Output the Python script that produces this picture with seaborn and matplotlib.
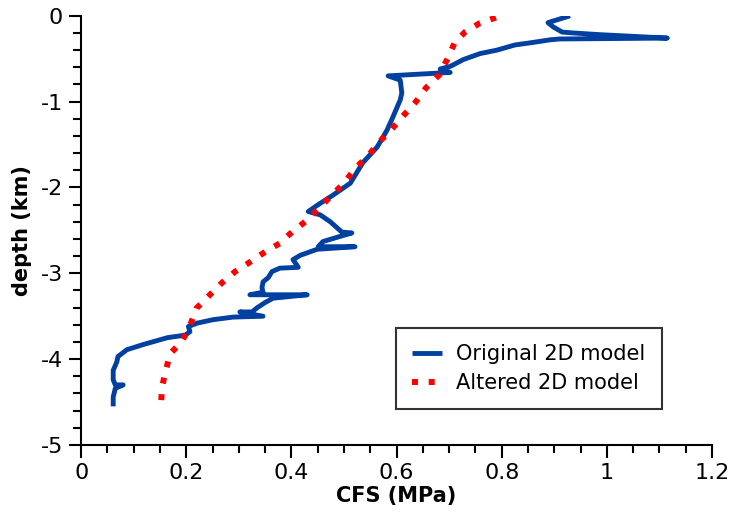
import numpy as np
import pandas as pd
import matplotlib
matplotlib.use("Agg")
import matplotlib.pyplot as plt
import seaborn as sns
from matplotlib.ticker import MultipleLocator

# Coulomb failure stress (MPa) versus depth (km), original model profile
orig_cfs = [0.930, 0.888, 0.898, 0.915, 0.936, 0.987, 1.115, 0.911, 0.892, 0.860,
            0.825, 0.791, 0.759, 0.727, 0.702, 0.683, 0.702, 0.584, 0.607, 0.610,
            0.607, 0.593, 0.582, 0.563, 0.536, 0.512, 0.479, 0.451, 0.432, 0.455,
            0.474, 0.496, 0.515, 0.487, 0.460, 0.451, 0.521, 0.449, 0.417, 0.403,
            0.413, 0.378, 0.363, 0.356, 0.346, 0.344, 0.346, 0.321, 0.430, 0.365,
            0.350, 0.335, 0.325, 0.302, 0.346, 0.289, 0.251, 0.221, 0.204, 0.207,
            0.198, 0.164, 0.118, 0.087, 0.070, 0.068, 0.061, 0.061, 0.065, 0.080,
            0.065, 0.061, 0.061]
orig_depth = [0.00, -0.08, -0.13, -0.19, -0.20, -0.22, -0.26, -0.27, -0.28, -0.31,
              -0.34, -0.40, -0.44, -0.51, -0.59, -0.62, -0.66, -0.70, -0.75, -0.90,
              -0.98, -1.18, -1.33, -1.53, -1.71, -1.95, -2.09, -2.20, -2.28, -2.32,
              -2.40, -2.52, -2.53, -2.58, -2.63, -2.69, -2.69, -2.72, -2.79, -2.84,
              -2.93, -2.94, -2.98, -3.05, -3.10, -3.17, -3.22, -3.25, -3.25, -3.29,
              -3.34, -3.40, -3.45, -3.45, -3.50, -3.51, -3.54, -3.58, -3.62, -3.68,
              -3.72, -3.75, -3.83, -3.89, -3.97, -4.03, -4.13, -4.24, -4.30, -4.30,
              -4.34, -4.44, -4.55]

# Altered model profile
alt_cfs = [0.789, 0.757, 0.730, 0.710, 0.697, 0.681, 0.656, 0.637, 0.612, 0.591,
           0.567, 0.546, 0.521, 0.500, 0.475, 0.453, 0.428, 0.401, 0.378, 0.350,
           0.321, 0.293, 0.268, 0.245, 0.219, 0.207, 0.192, 0.169, 0.162, 0.154,
           0.152]
alt_depth = [-0.02, -0.09, -0.19, -0.32, -0.50, -0.69, -0.84, -1.00, -1.17, -1.32,
             -1.47, -1.63, -1.78, -1.95, -2.10, -2.24, -2.39, -2.52, -2.65, -2.75,
             -2.87, -2.98, -3.11, -3.25, -3.41, -3.61, -3.79, -3.94, -4.11, -4.32,
             -4.52]

orig = pd.DataFrame({"cfs": orig_cfs, "depth": orig_depth})
alt = pd.DataFrame({"cfs": alt_cfs, "depth": alt_depth})

sns.set_style("ticks")
plt.rcParams["font.family"] = ["DejaVu Sans"]
plt.rcParams["text.color"] = "black"
plt.rcParams["axes.labelcolor"] = "black"

fig = plt.figure(figsize=(7.31, 5.26), dpi=100)
ax = fig.add_axes([0.111, 0.154, 0.863, 0.816])

sns.lineplot(data=orig, x="cfs", y="depth", sort=False, estimator=None,
             color="#0040a0", linewidth=3.5, label="Original 2D model", ax=ax)
sns.lineplot(data=alt, x="cfs", y="depth", sort=False, estimator=None,
             color="#ff0000", linewidth=4.3, label="Altered 2D model", ax=ax)
red_line = ax.lines[-1]
red_line.set_linestyle((0, (1, 1.8)))
red_line.set_dash_capstyle("butt")
ax.lines[0].set_solid_capstyle("butt")

ax.set_xlim(0, 1.2)
ax.set_ylim(-5, 0)
ax.xaxis.set_major_locator(MultipleLocator(0.2))
ax.xaxis.set_minor_locator(MultipleLocator(0.05))
ax.yaxis.set_major_locator(MultipleLocator(1))
ax.yaxis.set_minor_locator(MultipleLocator(0.2))
ax.set_xticks([0, 0.2, 0.4, 0.6, 0.8, 1.0, 1.2])
ax.set_xticklabels(["0", "0.2", "0.4", "0.6", "0.8", "1", "1.2"])
ax.set_yticks([0, -1, -2, -3, -4, -5])
ax.set_yticklabels(["0", "-1", "-2", "-3", "-4", "-5"])

sns.despine(ax=ax)
for side in ("left", "bottom"):
    ax.spines[side].set_linewidth(1.5)
    ax.spines[side].set_color("black")
ax.tick_params(which="major", direction="out", length=9, width=1.5,
               labelsize=16, colors="black", labelcolor="black", pad=4)
ax.tick_params(which="minor", direction="out", length=5.5, width=1.5,
               colors="black")

ax.set_xlabel("CFS (MPa)", fontsize=15, fontweight="bold", labelpad=2,
              color="black")
ax.set_ylabel("depth (km)", fontsize=15, fontweight="bold", labelpad=6,
              color="black")

leg = ax.legend(loc="upper right", bbox_to_anchor=(0.921, 0.273),
                fontsize=15, frameon=True, fancybox=False, handlelength=1.4,
                handletextpad=0.7, borderpad=0.8, labelspacing=0.4,
                borderaxespad=0)
leg.get_frame().set_edgecolor("black")
leg.get_frame().set_linewidth(1.5)
for t in leg.get_texts():
    t.set_color("black")
for h in leg.get_lines():
    h.set_dash_capstyle("butt")

fig.savefig("out.png", dpi=100)
